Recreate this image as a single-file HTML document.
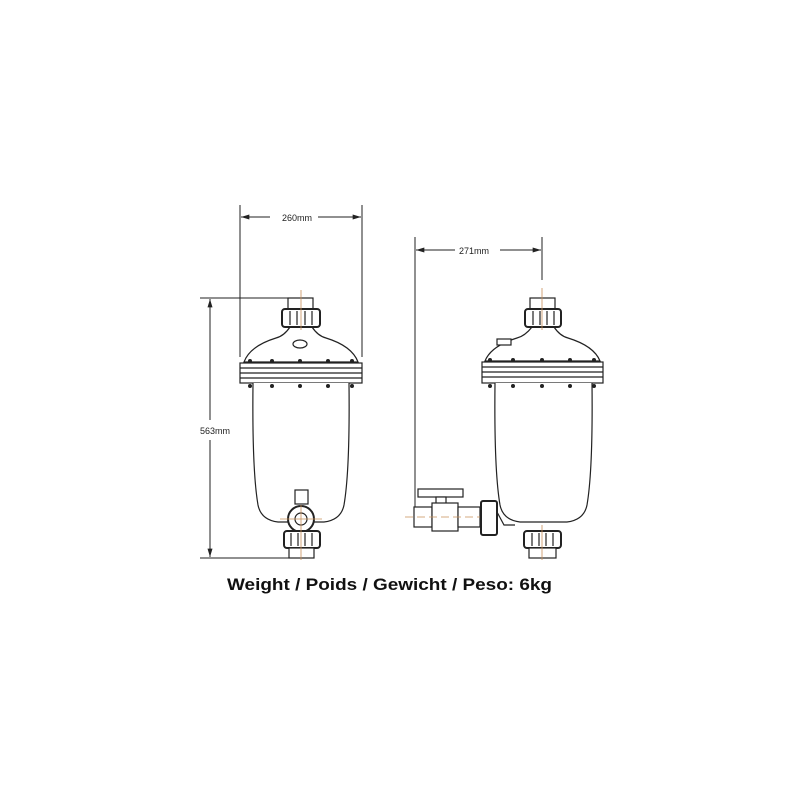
<!DOCTYPE html>
<html><head><meta charset="utf-8"><style>html,body{margin:0;background:#fff}svg{display:block}</style></head>
<body>
<svg width="800" height="800" viewBox="0 0 800 800" xmlns="http://www.w3.org/2000/svg" font-family="Liberation Sans, sans-serif">
<defs>
<marker id="a" viewBox="0 0 10 6" refX="10" refY="3" markerWidth="10" markerHeight="5" orient="auto-start-reverse"><path d="M0,0L10,3L0,6z" fill="#222"/></marker>
</defs>
<g stroke="#222" stroke-width="1" fill="none">
<line x1="240" y1="205" x2="240" y2="357"/>
<line x1="362" y1="205" x2="362" y2="357"/>
<line x1="241" y1="217" x2="270" y2="217" marker-start="url(#a)"/>
<line x1="318" y1="217" x2="361" y2="217" marker-end="url(#a)"/>
<line x1="200" y1="298" x2="313" y2="298"/>
<line x1="200" y1="558" x2="290" y2="558"/>
<line x1="210" y1="299" x2="210" y2="420" marker-start="url(#a)"/>
<line x1="210" y1="440" x2="210" y2="557" marker-end="url(#a)"/>
<line x1="415" y1="237" x2="415" y2="510"/>
<line x1="542" y1="237" x2="542" y2="280"/>
<line x1="416" y1="250" x2="455" y2="250" marker-start="url(#a)"/>
<line x1="500" y1="250" x2="541" y2="250" marker-end="url(#a)"/>
</g>
<text x="282" y="221" font-size="9" fill="#222">260mm</text>
<text x="459" y="254" font-size="9" fill="#222">271mm</text>
<text x="200" y="434" font-size="9" fill="#222">563mm</text>

<g stroke="#222" stroke-width="1.2" fill="#fff">
<rect x="288" y="298" width="25" height="13"/>
<path d="M290,327 L312,327 Q318,336 326,338 Q352,346 358,362 L244,362 Q250,346 276,338 Q284,336 290,327 Z"/>
<rect x="282" y="309" width="38" height="18" rx="3" stroke-width="2"/>
<line x1="290" y1="311" x2="290" y2="325"/><line x1="297" y1="311" x2="297" y2="325"/><line x1="305" y1="311" x2="305" y2="325"/><line x1="312" y1="311" x2="312" y2="325"/>
<ellipse cx="300" cy="344" rx="7" ry="4"/>
<rect x="240" y="363" width="122" height="20"/>
<line x1="240" y1="368" x2="362" y2="368"/><line x1="240" y1="373" x2="362" y2="373"/><line x1="240" y1="378" x2="362" y2="378"/>
<path d="M253,383 Q252,470 258,505 Q261,520 278,522 L324,522 Q341,520 344,505 Q350,470 349,383"/>
<rect x="295" y="490" width="13" height="14"/>
<circle cx="301" cy="519" r="13" stroke-width="2"/>
<circle cx="301" cy="519" r="6"/>
<rect x="284" y="531" width="36" height="17" rx="3" stroke-width="2"/>
<line x1="291" y1="533" x2="291" y2="546"/><line x1="298" y1="533" x2="298" y2="546"/><line x1="305" y1="533" x2="305" y2="546"/><line x1="312" y1="533" x2="312" y2="546"/>
<rect x="289" y="548" width="25" height="10"/>
</g>
<g fill="#222">
<circle cx="250" cy="386" r="2"/><circle cx="272" cy="386" r="2"/><circle cx="300" cy="386" r="2"/><circle cx="328" cy="386" r="2"/><circle cx="352" cy="386" r="2"/>
<circle cx="250" cy="361" r="2"/><circle cx="272" cy="361" r="2"/><circle cx="300" cy="361" r="2"/><circle cx="328" cy="361" r="2"/><circle cx="352" cy="361" r="2"/>
</g>
<g stroke="#c8905a" stroke-width="0.8"><line x1="301" y1="290" x2="301" y2="330"/><line x1="301" y1="505" x2="301" y2="560"/><line x1="280" y1="519" x2="322" y2="519"/></g>

<g stroke="#222" stroke-width="1.2" fill="#fff">
<rect x="530" y="298" width="25" height="13"/>
<path d="M532,327 L554,327 Q560,336 568,338 Q594,346 600,361 L485,361 Q491,346 517,338 Q525,336 532,327 Z"/>
<rect x="525" y="309" width="36" height="18" rx="3" stroke-width="2"/>
<line x1="533" y1="311" x2="533" y2="325"/><line x1="540" y1="311" x2="540" y2="325"/><line x1="547" y1="311" x2="547" y2="325"/><line x1="554" y1="311" x2="554" y2="325"/>
<rect x="497" y="339" width="14" height="6"/>
<rect x="482" y="362" width="121" height="21"/>
<line x1="482" y1="367" x2="603" y2="367"/><line x1="482" y1="372" x2="603" y2="372"/><line x1="482" y1="377" x2="603" y2="377"/>
<path d="M495,383 Q494,470 500,505 Q503,520 520,522 L567,522 Q584,520 587,505 Q593,470 592,383"/>
<path d="M497,512 L504,525 L515,525"/>
<rect x="418" y="489" width="45" height="8"/>
<rect x="436" y="497" width="10" height="9"/>
<rect x="414" y="507" width="18" height="20"/>
<rect x="432" y="503" width="26" height="28"/>
<rect x="458" y="507" width="22" height="20"/>
<rect x="481" y="501" width="16" height="34" rx="2" stroke-width="2"/>
<rect x="524" y="531" width="37" height="17" rx="3" stroke-width="2"/>
<line x1="532" y1="533" x2="532" y2="546"/><line x1="539" y1="533" x2="539" y2="546"/><line x1="546" y1="533" x2="546" y2="546"/><line x1="553" y1="533" x2="553" y2="546"/>
<rect x="529" y="548" width="27" height="10"/>
</g>
<g fill="#222">
<circle cx="490" cy="386" r="2"/><circle cx="513" cy="386" r="2"/><circle cx="542" cy="386" r="2"/><circle cx="570" cy="386" r="2"/><circle cx="594" cy="386" r="2"/>
<circle cx="490" cy="360" r="2"/><circle cx="513" cy="360" r="2"/><circle cx="542" cy="360" r="2"/><circle cx="570" cy="360" r="2"/><circle cx="594" cy="360" r="2"/>
</g>
<g stroke="#c8905a" stroke-width="0.8"><line x1="542" y1="288" x2="542" y2="330"/><line x1="542" y1="525" x2="542" y2="560"/><line x1="405" y1="517" x2="480" y2="517" stroke-dasharray="8 4"/></g>

<text x="227" y="590" font-size="17" font-weight="bold" fill="#111" textLength="325" lengthAdjust="spacingAndGlyphs">Weight / Poids / Gewicht / Peso: 6kg</text>
</svg>
</body></html>
